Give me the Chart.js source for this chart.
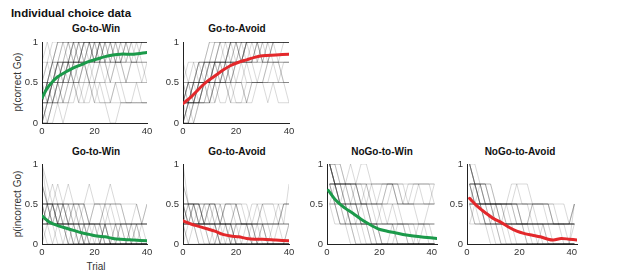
<!DOCTYPE html>
<html>
<head>
<meta charset="utf-8">
<script src="https://cdn.jsdelivr.net/npm/chart.js@4.4.1/dist/chart.umd.min.js"></script>
<style>
  body { margin: 0; background: #fff; width: 617px; height: 277px; position: relative; overflow: hidden;
         font-family: "Liberation Sans", Arial, sans-serif; }
  canvas { position: absolute; }
  .t { position: absolute; transform: translate(-50%, -50%); white-space: nowrap; color: #111; }
  .rot { transform: translate(-50%, -50%) rotate(-90deg); }
</style>
</head>
<body>
<div class="t" style="left:71px;top:13px;font-size:11.5px;font-weight:bold;">Individual choice data</div>
<div class="t" style="left:96px;top:28px;font-size:10px;font-weight:bold;">Go-to-Win</div>
<div class="t" style="left:237px;top:28px;font-size:10px;font-weight:bold;">Go-to-Avoid</div>
<div class="t" style="left:96px;top:151px;font-size:10px;font-weight:bold;">Go-to-Win</div>
<div class="t" style="left:237px;top:151px;font-size:10px;font-weight:bold;">Go-to-Avoid</div>
<div class="t" style="left:382px;top:151px;font-size:10px;font-weight:bold;">NoGo-to-Win</div>
<div class="t" style="left:520px;top:151px;font-size:10px;font-weight:bold;">NoGo-to-Avoid</div>
<div class="t rot" style="left:17px;top:82px;font-size:10px;color:#333;">p(correct Go)</div>
<div class="t rot" style="left:17px;top:204px;font-size:10px;color:#333;">p(incorrect Go)</div>
<div class="t" style="left:96px;top:266px;font-size:10px;color:#333;">Trial</div>

<script>
// tick values
const xTicks = [0, 20, 40];
const yTicks = [0, 0.5, 1];
const yTickLabels = ["0", "0.5", "1"];

// trial positions of the individual subject curves
const goTrials = [0,2,4,6,8,10,12,14,16,18,20,22,24,26,28,30,32,34,36,38,40];
const noGoTrials = [1,3,5,7,9,11,13,15,17,19,21,23,25,27,29,31,33,35,37,39,41];

// individual subjects, in quarters (4 = 1.0)
const topWinSubjects = [
  [1,2,3,4,4,4,4,4,4,4,4,4,4,4,4,4,4,4,4,4,4],
  [2,2,3,3,4,4,4,3,4,4,4,4,4,4,4,4,4,4,4,4,4],
  [0,1,1,2,2,3,3,3,4,4,4,4,3,4,4,4,4,4,4,4,4],
  [1,1,2,2,2,3,3,2,3,3,4,4,4,4,4,3,3,4,4,4,4],
  [2,3,3,4,4,4,4,4,4,4,4,4,4,4,4,4,4,4,4,4,4],
  [1,1,1,2,2,2,3,3,3,2,2,3,3,3,3,3,3,3,3,3,3],
  [0,0,1,1,1,2,2,1,1,2,2,2,2,1,1,1,1,1,1,1,1],
  [2,2,2,3,2,2,3,3,3,3,3,4,4,3,3,2,2,3,3,3,2],
  [1,2,2,3,3,4,4,4,4,4,4,4,4,4,4,4,4,4,4,4,4],
  [0,1,2,2,3,3,3,4,4,4,4,4,4,4,4,4,4,4,4,4,4],
  [1,1,1,1,2,2,2,2,2,3,3,3,3,2,2,2,2,2,2,2,2],
  [3,3,4,4,4,4,4,4,4,4,4,4,4,4,4,4,4,4,4,4,4],
  [1,2,2,2,3,3,4,4,3,3,4,4,4,4,4,4,4,4,4,4,4],
  [0,0,0,1,1,1,2,2,2,2,1,1,1,0,0,1,1,1,1,1,1],
  [2,1,2,2,3,3,3,3,3,3,3,3,3,3,3,3,3,3,3,3,3],
  [1,2,3,3,3,3,4,4,4,4,4,4,4,4,3,3,4,4,4,4,4],
  [1,1,2,3,3,3,3,3,3,3,4,4,4,4,4,4,4,4,4,4,4],
  [2,2,1,1,2,2,2,2,3,3,2,2,2,2,3,3,2,2,2,2,2],
  [1,2,2,3,2,3,3,4,3,4,4,3,4,4,4,3,4,4,4,4,4],
  [2,3,2,3,3,4,3,3,4,4,3,4,4,4,4,4,4,3,4,4,4],
  [0,1,2,1,2,3,2,3,3,4,3,3,4,3,4,4,4,4,4,4,4],
  [1,2,1,2,3,3,4,3,3,2,3,4,3,3,4,4,3,4,3,4,4],
  [2,2,3,2,2,3,2,2,3,2,2,3,3,2,3,3,2,3,3,2,3],
  [1,0,1,2,1,1,2,1,2,2,1,2,1,1,2,2,1,1,2,1,1],
  [3,4,3,4,4,3,4,4,4,4,3,4,4,4,4,4,4,4,4,4,4],
  [1,1,2,3,3,2,3,3,4,4,3,3,4,4,3,4,4,4,4,4,4],
  [0,1,1,2,1,2,3,3,3,4,4,3,2,3,3,4,4,3,3,4,4],
  [2,1,2,2,3,3,2,3,4,3,3,4,4,4,3,3,4,4,4,3,3],
  [1,2,3,3,4,4,3,4,4,4,4,4,3,4,4,4,4,4,4,4,4],
  [0,0,1,1,0,1,1,2,1,1,2,1,1,1,2,1,1,1,1,1,1]
];
const topAvoidSubjects = [
  [1,1,2,2,3,3,4,4,4,4,4,4,4,4,4,4,4,4,4,4,4],
  [0,1,1,2,2,2,3,3,3,4,4,4,4,4,4,4,4,4,4,4,4],
  [1,1,1,1,2,2,2,3,3,3,3,3,4,4,4,4,4,4,4,4,4],
  [2,2,2,3,3,3,3,4,4,4,4,4,4,4,4,3,3,4,4,4,4],
  [0,0,1,1,1,1,2,2,2,2,2,3,3,3,3,3,3,3,3,3,3],
  [1,2,2,2,2,3,3,3,2,2,3,3,3,3,4,4,4,4,4,4,4],
  [3,2,2,2,2,2,2,2,2,2,2,2,2,2,2,2,2,2,2,2,2],
  [1,1,1,2,2,1,1,2,2,2,1,1,1,2,2,2,2,2,1,1,1],
  [0,1,2,3,3,4,4,4,4,4,4,4,4,4,4,4,4,4,4,4,4],
  [1,1,2,2,2,2,3,3,3,3,3,3,3,3,3,3,4,4,4,4,4],
  [2,1,1,1,2,2,2,2,3,3,3,3,3,2,2,2,3,3,3,3,3],
  [1,2,2,3,3,3,3,4,4,4,4,4,4,4,4,4,4,4,4,4,4],
  [0,0,0,1,1,2,2,2,3,3,3,3,4,4,4,4,4,4,4,4,4],
  [1,1,1,2,2,2,2,2,2,3,3,3,2,2,2,3,3,3,3,2,2],
  [2,2,3,3,3,4,4,4,4,4,4,4,4,4,4,4,4,4,4,4,4],
  [1,1,1,1,1,1,2,2,2,1,1,1,2,2,2,2,2,2,2,2,2],
  [0,1,1,1,2,2,3,3,3,4,4,4,4,4,4,4,4,4,4,4,4],
  [1,2,2,2,3,3,3,3,3,4,4,3,3,3,4,4,4,4,4,4,4],
  [1,1,2,1,2,2,3,2,3,3,4,3,4,4,3,4,4,4,4,4,4],
  [2,2,1,2,3,2,3,3,3,4,3,3,4,4,4,3,4,4,3,4,4],
  [0,1,1,1,2,1,2,2,3,2,3,3,3,4,4,4,3,4,4,4,4],
  [1,2,2,3,2,2,3,3,2,3,3,4,3,3,3,4,4,3,3,3,3],
  [1,0,1,1,2,2,1,2,2,1,2,2,1,2,2,2,1,2,2,2,1],
  [2,3,3,2,3,3,4,4,3,4,4,4,4,4,4,4,4,4,4,4,4],
  [0,0,1,2,2,3,2,3,3,3,4,4,4,3,4,4,4,4,4,4,4],
  [1,1,1,2,2,3,3,2,2,3,2,2,3,3,2,2,3,3,2,3,3],
  [2,1,2,2,3,3,3,4,4,4,4,3,4,4,4,4,4,4,4,4,4],
  [1,2,1,1,1,2,2,3,3,2,3,3,4,4,4,3,3,4,4,4,4],
  [0,1,0,1,1,1,2,1,1,2,2,2,1,1,2,2,2,3,3,2,2],
  [1,1,2,2,2,3,3,3,4,3,3,4,4,4,4,4,4,4,4,4,4]
];
const bottomWinSubjects = [
  [3,2,2,1,1,1,1,0,0,0,0,0,0,0,0,0,0,0,0,0,0],
  [2,2,1,1,1,1,1,1,1,1,1,0,0,0,0,0,0,0,0,0,0],
  [1,1,1,1,1,0,0,0,0,0,0,0,0,0,0,0,0,0,0,0,0],
  [2,2,2,2,1,1,2,2,2,1,1,1,1,1,1,1,1,1,1,1,1],
  [4,3,2,2,2,1,1,1,1,1,1,1,0,0,0,0,0,0,0,0,0],
  [1,1,1,1,2,2,2,1,1,1,1,1,2,2,2,1,1,1,1,1,1],
  [2,1,1,1,0,0,0,0,0,0,0,0,0,0,0,0,0,0,0,0,0],
  [0,1,1,1,1,1,1,1,0,0,0,0,0,0,0,0,0,0,0,0,0],
  [2,2,2,2,2,2,2,2,2,2,2,2,2,2,2,2,1,1,1,1,2],
  [1,1,2,2,2,2,2,1,1,1,1,1,1,1,1,1,1,1,1,1,1],
  [3,2,2,2,1,1,1,0,0,0,0,0,1,1,1,0,0,0,0,0,0],
  [1,2,2,1,1,1,1,1,1,0,0,0,0,0,0,0,0,0,0,0,0],
  [2,2,2,1,1,1,0,0,0,1,1,1,0,0,0,0,0,0,0,0,0],
  [1,1,1,1,1,1,1,1,1,1,1,1,1,1,1,1,1,1,1,1,1],
  [2,2,3,2,2,2,2,2,1,1,2,2,2,2,1,1,1,1,1,1,1],
  [1,0,0,0,0,0,0,0,0,0,0,0,0,0,0,0,0,0,0,0,0],
  [1,2,1,1,2,1,1,0,1,1,0,0,1,0,0,1,0,0,0,1,0],
  [2,1,2,1,1,0,1,1,0,0,1,0,0,0,1,0,0,0,0,0,0],
  [3,2,2,1,2,1,1,1,0,1,1,1,0,0,0,1,1,0,0,0,0],
  [1,1,0,1,1,1,0,0,1,0,0,0,1,1,0,0,0,0,1,0,0],
  [2,2,1,2,2,1,2,2,1,1,2,2,1,2,2,2,1,1,2,1,1],
  [1,2,2,1,1,2,1,1,1,0,0,1,1,0,0,0,0,1,0,0,0],
  [2,2,2,3,2,2,1,2,2,1,1,1,2,1,1,1,0,1,1,0,0],
  [4,2,1,1,1,0,0,1,0,0,0,0,0,0,0,0,0,0,0,0,0],
  [1,1,1,2,1,1,1,1,2,1,1,1,1,0,1,1,1,0,1,1,1],
  [2,1,1,0,0,1,0,0,0,0,0,0,1,0,0,0,0,0,0,0,0],
  [1,1,2,2,2,3,2,2,2,3,2,2,2,3,2,2,2,2,2,1,2]
];
const bottomAvoidSubjects = [
  [2,2,2,1,1,1,1,0,0,0,0,0,0,0,0,0,0,0,0,0,0],
  [1,1,1,1,1,1,1,1,1,1,0,0,0,0,0,0,0,0,0,0,0],
  [2,2,1,1,1,2,2,1,1,1,1,1,1,1,1,1,1,1,1,1,1],
  [4,2,2,2,1,1,1,0,0,0,0,1,1,0,0,0,0,0,0,0,0],
  [1,1,2,2,2,2,1,1,1,1,0,0,0,0,0,0,0,0,0,0,0],
  [2,1,1,1,1,1,1,1,2,2,2,1,1,1,1,2,2,2,2,1,3],
  [1,0,0,0,0,0,0,0,0,0,0,0,0,0,0,0,0,0,0,0,0],
  [2,2,2,2,2,2,2,1,1,1,1,1,1,1,1,1,1,1,1,1,1],
  [0,1,1,1,1,0,0,0,0,0,1,1,1,1,0,0,0,0,0,0,0],
  [1,2,2,2,1,1,1,1,1,1,1,1,1,1,1,1,1,1,1,2,2],
  [2,1,1,0,0,0,0,0,0,0,0,0,0,0,0,0,0,0,0,0,0],
  [1,1,1,1,2,2,2,2,2,2,2,1,1,1,1,1,1,1,1,1,1],
  [3,2,2,1,1,1,1,1,1,0,0,0,0,0,0,0,0,0,0,0,0],
  [1,1,1,0,0,0,0,1,1,1,1,1,1,0,0,0,0,0,0,0,1],
  [2,2,2,2,1,1,1,1,1,1,1,1,1,1,0,0,0,0,0,0,0],
  [1,1,1,1,1,1,1,1,0,0,0,0,0,0,0,0,0,0,0,0,0],
  [1,1,2,1,1,1,2,1,1,0,1,1,1,0,0,1,0,0,0,0,0],
  [2,2,1,1,2,1,1,2,1,1,1,0,1,1,1,0,0,1,1,0,1],
  [1,2,2,2,1,1,1,1,2,2,1,1,1,1,1,1,1,0,1,1,1],
  [3,2,1,1,1,0,0,0,1,1,0,0,0,0,0,0,0,0,0,0,0],
  [1,1,1,2,2,2,2,1,2,2,2,2,2,1,2,2,1,1,2,2,2],
  [2,1,2,1,1,1,0,1,1,0,0,0,0,1,0,0,0,0,0,0,0],
  [1,0,1,1,0,0,1,0,0,1,0,0,0,0,0,1,0,0,0,0,0],
  [2,2,2,2,1,2,2,2,1,1,2,1,1,2,2,1,1,1,1,2,2],
  [1,1,1,1,1,2,1,1,1,1,2,2,1,1,1,2,2,2,1,2,2],
  [2,1,1,1,1,1,1,0,0,0,0,0,0,0,1,1,0,0,0,0,0]
];
const noGoWinSubjects = [
  [4,3,2,1,1,0,0,0,0,0,0,0,0,0,0,0,0,0,0,0,0],
  [3,3,2,2,2,1,1,1,0,0,0,0,0,0,0,0,0,0,0,0,0],
  [4,4,3,3,3,2,2,2,1,1,1,1,1,0,0,0,0,0,0,0,0],
  [2,2,1,1,1,1,0,0,0,0,0,0,0,0,0,0,0,0,0,0,0],
  [3,3,3,3,3,3,3,3,3,3,3,3,3,3,3,3,3,3,3,3,3],
  [4,3,3,3,4,3,3,3,2,2,3,3,3,2,2,2,2,2,2,2,2],
  [3,2,2,2,1,1,1,1,1,1,1,1,1,1,1,1,1,1,1,1,1],
  [4,3,3,2,2,2,1,1,1,1,0,0,0,0,0,0,0,0,0,0,0],
  [2,2,2,3,3,3,2,2,2,2,2,3,3,2,2,2,2,1,1,1,1],
  [3,2,1,1,1,0,0,0,0,0,0,0,0,0,0,0,0,0,0,0,0],
  [4,4,4,3,3,3,3,2,2,2,2,2,2,2,2,2,2,2,2,2,2],
  [3,3,2,2,1,1,1,1,1,0,0,0,0,0,0,0,0,0,0,0,0],
  [2,1,1,1,0,0,0,0,0,0,0,0,0,0,0,0,0,0,0,0,0],
  [4,3,3,3,3,3,2,2,2,2,1,1,1,1,1,1,0,0,0,0,0],
  [3,3,3,3,3,3,4,4,3,3,3,3,3,2,2,3,3,3,3,3,3],
  [4,3,2,2,2,2,2,2,1,1,1,1,1,1,1,1,1,1,1,1,1],
  [4,3,3,2,2,2,2,3,3,2,2,3,3,3,2,2,3,3,2,2,3],
  [3,3,2,2,1,1,2,2,1,1,1,1,2,2,1,1,1,1,1,2,2],
  [4,4,3,3,2,2,1,1,1,1,0,0,0,1,1,0,0,0,0,0,0],
  [3,2,2,1,1,1,1,0,0,0,0,0,1,0,0,0,0,0,0,0,0],
  [4,3,3,3,2,2,2,2,2,1,1,1,1,1,1,0,0,1,1,0,0],
  [2,3,3,3,3,3,2,2,3,3,3,3,3,3,3,2,2,3,3,3,2],
  [4,4,4,3,3,3,2,2,2,2,2,1,1,1,1,1,1,0,0,0,0],
  [3,3,3,2,2,2,1,1,1,1,2,2,2,1,1,1,1,1,1,1,1],
  [4,3,2,2,1,1,1,1,0,0,0,0,0,0,0,0,0,0,0,0,0],
  [3,3,2,2,2,3,3,3,2,2,2,2,3,3,2,2,2,2,2,2,2],
  [4,3,3,3,3,2,2,1,1,1,0,0,0,0,0,0,0,0,0,0,0],
  [2,2,1,1,2,2,1,1,1,0,0,0,0,0,0,0,0,0,1,1,0]
];
const noGoAvoidSubjects = [
  [3,2,2,1,1,1,1,0,0,0,0,0,0,0,0,0,0,0,0,0,0],
  [4,3,3,2,2,2,1,1,1,1,1,0,0,0,0,0,0,0,0,0,0],
  [2,2,2,2,2,2,1,1,1,1,1,1,1,1,1,1,1,1,1,1,1],
  [3,3,2,2,2,2,2,2,2,2,2,2,2,1,1,1,1,1,1,1,2],
  [2,1,1,1,0,0,0,0,0,0,0,0,0,0,0,0,0,0,0,0,0],
  [3,2,2,2,2,1,1,1,1,1,1,1,1,1,0,0,0,0,0,0,0],
  [4,3,3,3,2,2,2,2,2,2,2,2,2,2,2,2,1,1,1,1,1],
  [2,2,3,3,3,2,2,2,2,3,3,3,2,2,2,2,1,1,1,1,1],
  [3,3,2,1,1,1,0,0,0,0,0,0,0,0,0,0,0,0,0,0,0],
  [2,2,2,1,1,1,1,1,1,1,1,1,1,1,1,0,0,0,0,0,0],
  [3,3,3,2,2,2,2,2,2,2,1,1,1,1,1,1,1,1,1,1,1],
  [1,1,1,1,1,0,0,0,0,0,0,0,0,0,0,0,0,0,0,0,0],
  [2,2,2,2,2,2,2,2,2,2,2,2,2,2,2,2,2,2,2,1,1],
  [4,3,2,2,1,1,1,1,0,0,0,0,0,0,0,0,0,0,0,0,2],
  [3,2,2,2,2,2,2,2,1,1,1,1,1,1,1,1,1,1,1,1,1],
  [2,2,1,1,1,1,1,1,1,1,1,1,0,0,0,0,0,0,0,0,0],
  [3,3,2,2,2,1,1,2,2,2,1,1,2,2,2,2,1,1,1,1,2],
  [4,4,3,3,2,2,2,1,1,1,1,1,1,0,0,0,0,0,0,0,0],
  [2,2,2,1,1,2,2,2,2,1,1,1,2,2,2,1,1,1,1,1,1],
  [3,2,2,2,1,1,1,1,1,0,0,0,0,0,1,1,0,0,0,0,0],
  [4,3,3,3,3,2,2,2,2,2,1,1,1,1,1,1,1,1,0,0,1],
  [2,3,3,2,2,2,2,2,3,3,2,2,2,2,2,2,2,1,1,1,1],
  [3,3,2,2,2,1,1,1,1,1,1,0,0,0,0,0,0,0,0,0,0],
  [4,3,2,2,2,2,2,2,2,1,1,1,1,1,1,1,1,1,1,0,0],
  [1,2,2,2,2,2,1,1,1,1,1,1,1,1,1,0,0,0,0,0,0],
  [3,3,3,2,2,2,2,1,1,1,1,1,1,1,1,1,1,1,1,1,2],
  [2,1,1,1,1,1,0,0,0,0,0,0,0,0,0,0,0,0,0,0,0],
  [4,3,3,3,2,2,2,2,2,2,2,2,1,1,1,1,1,1,1,1,1]
];

// group means
const topWinMeanX = [0,2,4,6,9,12,15,18,21,24,27,30,35,40];
const topWinMeanY = [0.31,0.43,0.51,0.57,0.63,0.68,0.72,0.76,0.79,0.82,0.84,0.85,0.85,0.87];
const topAvoidMeanX = [0,3,6,9,12,15,18,21,24,27,30,35,40];
const topAvoidMeanY = [0.24,0.32,0.42,0.51,0.58,0.65,0.71,0.75,0.78,0.81,0.83,0.84,0.85];
const bottomWinMeanX = [0,3,6,9,12,15,18,21,24,27,30,35,40];
const bottomWinMeanY = [0.35,0.27,0.23,0.20,0.17,0.14,0.12,0.10,0.09,0.07,0.06,0.05,0.04];
const bottomAvoidMeanX = [0,3,6,9,12,15,18,21,24,27,30,35,40];
const bottomAvoidMeanY = [0.29,0.25,0.22,0.19,0.16,0.12,0.10,0.09,0.07,0.06,0.06,0.05,0.04];
const noGoWinMeanX = [0.5,3,6,10,13,16,19.5,23,26,29,33,37,42];
const noGoWinMeanY = [0.67,0.56,0.47,0.38,0.31,0.25,0.19,0.16,0.14,0.12,0.10,0.085,0.07];
const noGoAvoidMeanX = [1,4,7,10,13,16,19,22,25,28,31,33,36,39,42];
const noGoAvoidMeanY = [0.57,0.47,0.39,0.32,0.27,0.21,0.16,0.13,0.11,0.09,0.06,0.05,0.07,0.06,0.05];

const green = "#1b9a4a";
const red = "#e3282b";

const panels = [
  {plot: [42, 42, 105, 81], xMax: 40, trials: goTrials, subjects: topWinSubjects, mx: topWinMeanX, my: topWinMeanY, color: green},
  {plot: [183, 42, 106, 81], xMax: 40, trials: goTrials, subjects: topAvoidSubjects, mx: topAvoidMeanX, my: topAvoidMeanY, color: red},
  {plot: [42, 164, 105, 80], xMax: 40, trials: goTrials, subjects: bottomWinSubjects, mx: bottomWinMeanX, my: bottomWinMeanY, color: green},
  {plot: [183, 164, 106, 80], xMax: 40, trials: goTrials, subjects: bottomAvoidSubjects, mx: bottomAvoidMeanX, my: bottomAvoidMeanY, color: red},
  {plot: [327, 164, 110, 80], xMax: 42, trials: noGoTrials, subjects: noGoWinSubjects, mx: noGoWinMeanX, my: noGoWinMeanY, color: green},
  {plot: [467, 164, 110, 80], xMax: 42, trials: noGoTrials, subjects: noGoAvoidSubjects, mx: noGoAvoidMeanX, my: noGoAvoidMeanY, color: red}
];

Chart.defaults.font.family = '"Liberation Sans", Arial, sans-serif';
Chart.defaults.font.size = 9.5;
Chart.defaults.color = "#333";

const padTop = 10, padRight = 10, yAxisW = 26, xAxisH = 16;

panels.forEach((p) => {
  const [left, top, w, h] = p.plot;
  const canvas = document.createElement("canvas");
  canvas.width = w + yAxisW + padRight;
  canvas.height = h + padTop + xAxisH;
  canvas.style.left = (left - yAxisW) + "px";
  canvas.style.top = (top - padTop) + "px";
  document.body.appendChild(canvas);

  let datasets = [];
  // mean first so it is painted on top
  datasets.push({
    data: p.mx.map((x, i) => ({x: x, y: p.my[i]})),
    borderColor: p.color,
    borderWidth: 3,
    pointRadius: 0,
    tension: 0.3,
    borderCapStyle: "round"
  });
  p.subjects.forEach((s) => {
    datasets.push({
      data: s.map((q, i) => ({x: p.trials[i], y: q / 4})),
      borderColor: "rgba(30,30,30,0.17)",
      borderWidth: 1,
      pointRadius: 0,
      tension: 0
    });
  });

  new Chart(canvas, {
    type: "line",
    data: {datasets: datasets},
    options: {
      responsive: false,
      animation: false,
      events: [],
      layout: {padding: {top: padTop, right: padRight, left: 0, bottom: 0}},
      plugins: {legend: {display: false}, tooltip: {enabled: false}},
      scales: {
        x: {
          type: "linear", min: 0, max: p.xMax,
          afterBuildTicks: (s) => { s.ticks = xTicks.map(v => ({value: v})); },
          afterFit: (s) => { s.height = xAxisH; },
          ticks: {padding: 3, maxRotation: 0, autoSkip: false},
          grid: {display: false, drawTicks: false},
          border: {display: true, color: "#222", width: 1}
        },
        y: {
          type: "linear", min: 0, max: 1,
          afterBuildTicks: (s) => { s.ticks = yTicks.map(v => ({value: v})); },
          afterFit: (s) => { s.width = yAxisW; },
          ticks: {padding: 4, callback: (v) => yTickLabels[yTicks.indexOf(v)]},
          grid: {display: false, drawTicks: false},
          border: {display: true, color: "#222", width: 1}
        }
      }
    }
  });
});
</script>
</body>
</html>
